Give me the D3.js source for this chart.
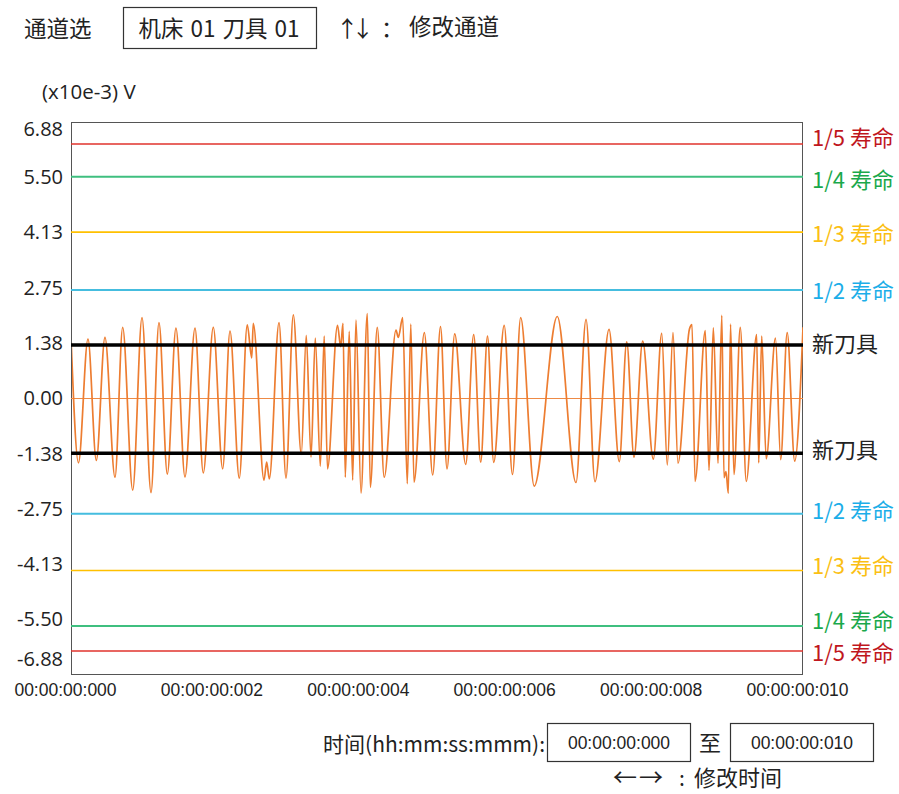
<!DOCTYPE html>
<html>
<head>
<meta charset="utf-8">
<script src="https://cdn.jsdelivr.net/npm/d3@7"></script>
<style>
  body { margin: 0; background: #fff; }
  svg { display: block; }
</style>
</head>
<body>
<svg id="chart" width="899" height="794"></svg>
<script>
// Voltage axis ticks, in x10e-3 V
const yTicks = [6.88, 5.50, 4.13, 2.75, 1.38, 0, -1.38, -2.75, -4.13, -5.50, -6.88];
// Time axis ticks, in ms
const timeTicks = [0, 2, 4, 6, 8, 10];

// Sampled signal extrema: time (ms) and voltage (x10e-3 V)
const waveTime = [
  0.000, 0.102, 0.232, 0.346, 0.464, 0.601, 0.706, 0.843, 0.970, 1.093,
  1.202, 1.316, 1.434, 1.557, 1.694, 1.807, 1.944, 2.072, 2.172, 2.299,
  2.408, 2.469, 2.490, 2.637, 2.673, 2.709, 2.842, 2.937, 3.037, 3.146,
  3.214, 3.279, 3.337, 3.406, 3.459, 3.504, 3.641, 3.684, 3.716, 3.747,
  3.801, 3.848, 3.893, 3.962, 4.048, 4.089, 4.184, 4.279, 4.440, 4.471,
  4.531, 4.594, 4.642, 4.686, 4.827, 4.941, 5.048, 5.137, 5.242, 5.392,
  5.501, 5.597, 5.690, 5.775, 5.918, 6.031, 6.143, 6.328, 6.643, 6.899,
  7.036, 7.158, 7.350, 7.490, 7.592, 7.691, 7.810, 7.955, 8.070, 8.146,
  8.224, 8.292, 8.449, 8.484, 8.525, 8.665, 8.716, 8.775, 8.839, 8.891,
  8.921, 8.948, 8.980, 9.010, 9.057, 9.143, 9.225, 9.367, 9.395, 9.436,
  9.497, 9.624, 9.695, 9.784, 9.887, 10.000
];
const waveValue = [
  1.53, -1.60, 1.48, -1.54, 1.52, -1.96, 1.77, -2.28, 2.01, -2.34,
  1.89, -1.88, 1.75, -1.95, 1.75, -1.85, 1.77, -1.75, 1.68, -1.98,
  1.83, 1.01, 1.87, -2.03, -1.58, -2.00, 1.89, -1.98, 2.08, -1.39,
  1.57, -1.46, 1.50, -1.68, 1.55, -1.75, 1.82, 1.29, 1.87, -1.96,
  1.67, -2.03, 1.95, -2.35, 2.11, -2.21, 1.77, -1.96, 1.70, 1.52,
  2.01, -2.12, 1.85, -2.08, 1.64, -1.90, 1.79, -1.75, 1.61, -1.64,
  1.59, -1.58, 1.55, -1.59, 1.82, -1.89, 2.01, -2.18, 2.04, -2.09,
  1.97, -2.07, 1.72, -1.57, 1.41, -1.46, 1.43, -1.51, 1.62, -1.65,
  1.64, -1.61, 1.73, 1.84, -2.06, 1.69, -1.79, 1.76, -1.61, 2.07,
  -1.97, -1.82, -2.36, 1.85, -1.89, 1.77, -2.06, 1.59, -1.60, 1.55,
  -1.50, 1.50, -1.52, 1.64, -1.56, 1.77
];

// Tool-life reference levels (x10e-3 V), from 1/5 life down to a new tool
const levelNames = ["1/5 寿命", "1/4 寿命", "1/3 寿命", "1/2 寿命", "新刀具"];
const upperLevels = [6.33, 5.52, 4.14, 2.70, 1.33];
const lowerLevels = [-6.28, -5.66, -4.28, -2.87, -1.36];
// where each level's caption sits on the voltage scale
const upperCaption = [6.48, 5.43, 4.09, 2.68, 1.36];
const lowerCaption = [-6.34, -5.53, -4.16, -2.79, -1.28];

const lineColors  = ["#e0332d", "#3fbf7f", "#ffc000", "#45bddf", "#000000"];
const labelColors = ["#c0161d", "#1aa84b", "#fbbf14", "#1caee8", "#222222"];
const lineWidths  = [1.5, 2, 1.6, 2, 3.5];

const CJK = "'Noto Sans CJK SC', 'Noto Sans', sans-serif";
const SANS = "'Open Sans', 'Noto Sans', sans-serif";
const NUM = "'Liberation Sans', Arial, sans-serif";

const svg = d3.select("#chart");
svg.append("rect").attr("width", 899).attr("height", 794).attr("fill", "#fff");

const plot = { left: 71, right: 803, top: 122, bottom: 675 };

const x = d3.scaleLinear().domain([0, 10]).range([plot.left, plot.right]);
const y = d3.scaleLinear().domain([-6.88, 6.88]).range([plot.bottom, plot.top]);

// ---- header: channel selector ----
const header = svg.append("g").attr("font-family", CJK).attr("fill", "#222").attr("font-size", 22.5);
header.append("text").attr("x", 24).attr("y", 37).text("通道选");
header.append("rect").attr("x", 123.5).attr("y", 7.5).attr("width", 193).attr("height", 41)
  .attr("fill", "none").attr("stroke", "#333").attr("stroke-width", 1.2);
header.append("text").attr("x", 219).attr("y", 37).attr("text-anchor", "middle")
  .attr("word-spacing", 2).text("机床 01 刀具 01");
header.append("text").attr("x", 336).attr("y", 37).attr("letter-spacing", -7).text("↑↓");
header.append("text").attr("x", 381).attr("y", 37).text("：");
header.append("text").attr("x", 409).attr("y", 35).text("修改通道");

svg.append("text").attr("x", 42).attr("y", 99).attr("font-family", SANS)
  .attr("font-size", 20.5).attr("fill", "#222").text("(x10e-3) V");

// ---- plot frame ----
svg.append("rect")
  .attr("x", plot.left + 0.5).attr("y", plot.top + 0.5)
  .attr("width", plot.right - plot.left - 1).attr("height", plot.bottom - plot.top - 1)
  .attr("fill", "none").attr("stroke", "#555").attr("stroke-width", 1);

svg.append("defs").append("clipPath").attr("id", "plot-clip")
  .append("rect").attr("x", plot.left + 1).attr("y", plot.top)
  .attr("width", plot.right - plot.left - 1).attr("height", plot.bottom - plot.top);

// zero line
svg.append("line")
  .attr("x1", plot.left).attr("x2", plot.right)
  .attr("y1", y(0)).attr("y2", y(0))
  .attr("stroke", "#ee8a45").attr("stroke-width", 1.2);

// ---- signal ----
const wave = waveTime.map((t, i) => [t, waveValue[i]]);
svg.append("path")
  .datum(wave)
  .attr("clip-path", "url(#plot-clip)")
  .attr("fill", "none")
  .attr("stroke", "#ed7d31")
  .attr("stroke-width", 1.7)
  .attr("d", d3.line().x(d => x(d[0])).y(d => y(d[1])).curve(d3.curveMonotoneX));

// ---- reference levels ----
const levels = [];
levelNames.forEach((name, i) => {
  levels.push({ name, value: upperLevels[i], caption: upperCaption[i], i });
  levels.push({ name, value: lowerLevels[i], caption: lowerCaption[i], i });
});

const lv = svg.append("g");
lv.selectAll("line").data(levels).join("line")
  .attr("x1", plot.left).attr("x2", plot.right)
  .attr("y1", d => y(d.value)).attr("y2", d => y(d.value))
  .attr("stroke", d => lineColors[d.i])
  .attr("stroke-width", d => lineWidths[d.i]);

lv.selectAll("text").data(levels).join("text")
  .attr("x", 812)
  .attr("y", d => y(d.caption))
  .attr("dy", "0.36em")
  .attr("font-family", CJK)
  .attr("font-size", 22)
  .attr("fill", d => labelColors[d.i])
  .text(d => d.name);

// ---- axes ----
const yAxis = svg.append("g")
  .attr("transform", `translate(${plot.left},0)`)
  .call(d3.axisLeft(y).tickValues(yTicks).tickSize(0).tickPadding(8).tickFormat(d => d.toFixed(2)));
yAxis.select(".domain").remove();
yAxis.selectAll("text")
  .attr("font-family", SANS).attr("font-size", 20).attr("fill", "#222");
// keep the end labels inside the frame
yAxis.selectAll(".tick").filter(d => d === 6.88)
  .attr("transform", `translate(0,${y(6.88) + 8})`);
yAxis.selectAll(".tick").filter(d => d === -6.88)
  .attr("transform", `translate(0,${y(-6.88) - 15})`);

const fmtTime = ms => "00:00:00:" + String(ms).padStart(3, "0");
const xAxis = svg.append("g")
  .attr("transform", `translate(0,${plot.bottom})`)
  .call(d3.axisBottom(x).tickValues(timeTicks).tickSize(0).tickPadding(9).tickFormat(fmtTime));
xAxis.select(".domain").remove();
xAxis.selectAll("text")
  .attr("x", -6)
  .attr("font-family", NUM).attr("font-size", 17.5).attr("fill", "#222");

// ---- footer: time range ----
const footer = svg.append("g").attr("font-family", CJK).attr("fill", "#222");
footer.append("text").attr("x", 545).attr("y", 752).attr("text-anchor", "end")
  .attr("font-size", 21).text("时间(hh:mm:ss:mmm):");
const timeRange = [0, 10];
const boxX = [547.5, 730.5];
timeRange.forEach((ms, i) => {
  footer.append("rect").attr("x", boxX[i]).attr("y", 723.5).attr("width", 143).attr("height", 38)
    .attr("fill", "none").attr("stroke", "#333").attr("stroke-width", 1.2);
  footer.append("text").attr("x", boxX[i] + 71.5).attr("y", 748.5).attr("text-anchor", "middle")
    .attr("font-family", NUM).attr("font-size", 17.5).text(fmtTime(ms));
});
footer.append("text").attr("x", 699).attr("y", 751).attr("font-size", 22).text("至");
footer.append("text").attr("x", 613).attr("y", 786).attr("font-size", 24)
  .attr("letter-spacing", 2).text("←→");
footer.append("text").attr("x", 679).attr("y", 786).attr("font-size", 21).text(":");
footer.append("text").attr("x", 694).attr("y", 786).attr("font-size", 22).text("修改时间");
</script>
</body>
</html>
